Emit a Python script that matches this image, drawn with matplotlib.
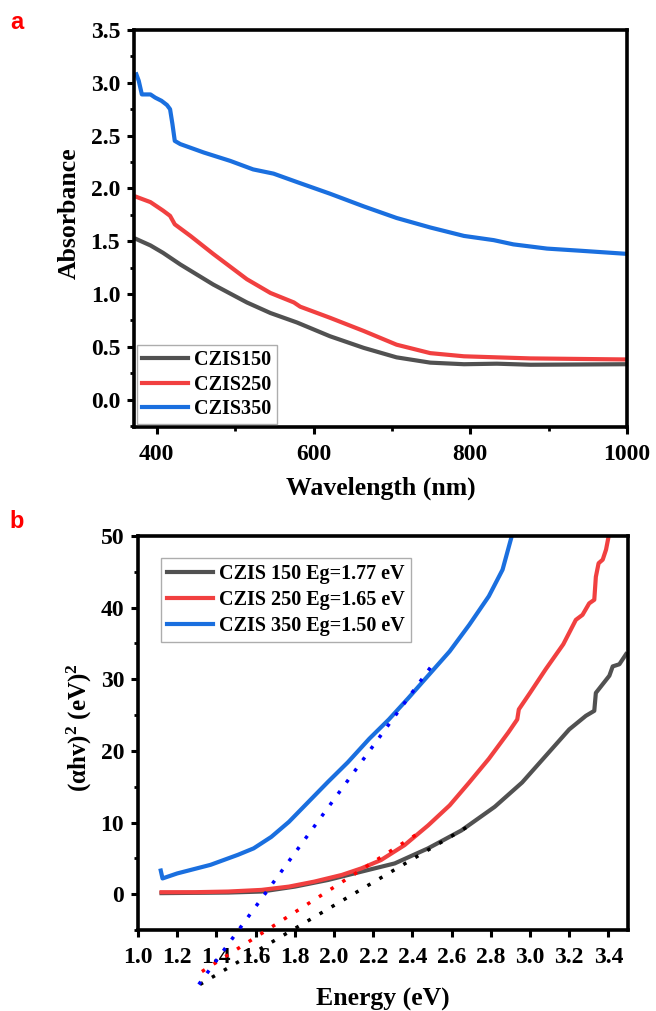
import matplotlib
matplotlib.use("Agg")
import matplotlib.pyplot as plt
from matplotlib.ticker import MultipleLocator

plt.rcParams['font.family'] = ['Liberation Serif', 'DejaVu Serif']
plt.rcParams['font.weight'] = 'bold'
plt.rcParams['mathtext.fontset'] = 'custom'
plt.rcParams['mathtext.rm'] = 'Liberation Serif:bold'
plt.rcParams['mathtext.it'] = 'Liberation Serif:bold:italic'
plt.rcParams['mathtext.bf'] = 'Liberation Serif:bold'

# ---------------- Panel a data ----------------
wl_150 = [374, 392, 408, 430, 472, 515, 545, 579, 621, 664, 706, 749, 792, 834, 877, 1000]
ab_150 = [1.52, 1.46, 1.39, 1.28, 1.09, 0.92, 0.82, 0.73, 0.60, 0.49, 0.40, 0.35, 0.335, 0.34, 0.33, 0.335]
wl_250 = [374, 392, 408, 417, 423, 443, 472, 515, 545, 575, 583, 621, 664, 706, 749, 792, 834, 877, 1000]
ab_250 = [1.92, 1.87, 1.79, 1.74, 1.66, 1.55, 1.38, 1.14, 1.01, 0.92, 0.88, 0.775, 0.65, 0.52, 0.44, 0.41, 0.40, 0.39, 0.38]
wl_350 = [374, 377, 381, 392, 398, 406, 413, 417, 420, 423, 430, 460, 494, 523, 549, 579, 621,
          664, 706, 749, 792, 830, 855, 898, 940, 1000]
ab_350 = [3.08, 3.02, 2.89, 2.89, 2.86, 2.83, 2.79, 2.75, 2.61, 2.45, 2.42, 2.34, 2.26, 2.18, 2.14, 2.06, 1.95,
          1.83, 1.72, 1.63, 1.55, 1.51, 1.47, 1.43, 1.41, 1.38]
labels_a = ['CZIS150', 'CZIS250', 'CZIS350']

# ---------------- Panel b data ----------------
e_150 = [1.12, 1.46, 1.63, 1.80, 1.97, 2.14, 2.31, 2.48, 2.65, 2.82, 2.96, 3.08, 3.20, 3.285, 3.328, 3.336,
         3.405, 3.422, 3.456, 3.49]
t_150 = [0.15, 0.23, 0.37, 1.06, 1.99, 3.15, 4.3, 6.4, 8.9, 12.2, 15.6, 19.3, 23.0, 24.9, 25.6, 28.1,
         30.5, 31.8, 32.1, 33.5]
e_250 = [1.12, 1.29, 1.46, 1.63, 1.77, 1.90, 2.04, 2.14, 2.24, 2.36, 2.48, 2.59, 2.69, 2.79, 2.89, 2.935,
         2.943, 3.0, 3.08, 3.17, 3.234, 3.268, 3.302, 3.328, 3.336, 3.35, 3.371, 3.388, 3.405]
t_250 = [0.28, 0.28, 0.37, 0.6, 1.06, 1.76, 2.69, 3.61, 4.77, 6.85, 9.6, 12.4, 15.6, 18.9, 22.6, 24.4,
         25.8, 28.1, 31.4, 34.9, 38.3, 39.0, 40.6, 41.1, 44.3, 46.2, 46.7, 48.1, 50.5]
e_350 = [1.116, 1.125, 1.20, 1.37, 1.51, 1.59, 1.68, 1.77, 1.87, 1.97, 2.07, 2.18, 2.28, 2.38, 2.48, 2.59,
         2.69, 2.79, 2.86, 2.91]
t_350 = [3.3, 2.2, 2.9, 4.1, 5.5, 6.4, 8.0, 10.1, 12.9, 15.7, 18.4, 21.7, 24.4, 27.4, 30.5, 33.9,
         37.6, 41.6, 45.3, 50.3]
labels_b = ['CZIS 150 Eg=1.77 eV', 'CZIS 250 Eg=1.65 eV', 'CZIS 350 Eg=1.50 eV']

# tangent (extrapolation) lines: x endpoints, y endpoints
fit_150_x = [1.316, 2.68]
fit_150_y = [-12.6, 9.4]
fit_250_x = [1.326, 2.43]
fit_250_y = [-10.8, 8.5]
fit_350_x = [1.31, 2.52]
fit_350_y = [-12.6, 32.7]

c_gray, c_red, c_blue = '#515151', '#F14040', '#1A6FDF'

fig = plt.figure(figsize=(6.56, 10.11), dpi=100)
ax1 = fig.add_axes([0.2043, 0.5776, 0.9558 - 0.2043, 0.9703 - 0.5776])
ax2 = fig.add_axes([0.2104, 0.0801, 0.9573 - 0.2104, 0.4698 - 0.0801])

TICK_FS = 17
LABEL_FS = 18.5
LEG_FS = 14.5

lw = 3.0
ax1.plot(wl_150, ab_150, color=c_gray, lw=lw, label=labels_a[0])
ax1.plot(wl_250, ab_250, color=c_red, lw=lw, label=labels_a[1])
ax1.plot(wl_350, ab_350, color=c_blue, lw=lw, label=labels_a[2])
ax1.set_xlim(371, 1000)
ax1.set_ylim(-0.26, 3.5)
ax1.xaxis.set_major_locator(MultipleLocator(200))
ax1.xaxis.set_minor_locator(MultipleLocator(100))
ax1.yaxis.set_minor_locator(MultipleLocator(0.25))
ax1.set_yticks([0.0, 0.5, 1.0, 1.5, 2.0, 2.5, 3.0, 3.5])
ax1.set_yticklabels(['0.0', '0.5', '1.0', '1.5', '2.0', '2.5', '3.0', '3.5'])
ax1.set_xlabel('Wavelength (nm)', fontsize=LABEL_FS, fontweight='bold', labelpad=8)
ax1.set_ylabel('Absorbance', fontsize=LABEL_FS, fontweight='bold', labelpad=7)
ax1.yaxis.label.set_y(0.539)
leg1 = ax1.legend(loc='lower left', bbox_to_anchor=(0.0, 0.0), fontsize=LEG_FS, frameon=True,
                  fancybox=False, edgecolor='#999999', handlelength=2.3, handletextpad=0.3,
                  borderpad=0.25, labelspacing=0.22, borderaxespad=0.15)
leg1.get_frame().set_linewidth(1.0)
for t in leg1.get_texts():
    t.set_fontweight('bold')

ax2.plot(e_150, t_150, color=c_gray, lw=lw, label=labels_b[0])
ax2.plot(e_250, t_250, color=c_red, lw=lw, label=labels_b[1])
ax2.plot(e_350, t_350, color=c_blue, lw=lw, label=labels_b[2])
ds = (0, (1, 3))
ax2.plot(fit_150_x, fit_150_y, color='black', lw=2.5, ls=ds, clip_on=False, zorder=5)
ax2.plot(fit_250_x, fit_250_y, color='red', lw=2.5, ls=ds, clip_on=False, zorder=5)
ax2.plot(fit_350_x, fit_350_y, color='blue', lw=2.5, ls=ds, clip_on=False, zorder=5)
ax2.set_xlim(1.0, 3.5)
ax2.set_ylim(-5, 50)
ax2.set_xticks([1.0, 1.2, 1.4, 1.6, 1.8, 2.0, 2.2, 2.4, 2.6, 2.8, 3.0, 3.2, 3.4])
ax2.set_xticklabels(['1.0', '1.2', '1.4', '1.6', '1.8', '2.0', '2.2', '2.4', '2.6', '2.8', '3.0', '3.2', '3.4'])
ax2.yaxis.set_major_locator(MultipleLocator(10))
ax2.yaxis.set_minor_locator(MultipleLocator(5))
ax2.set_xlabel('Energy (eV)', fontsize=LABEL_FS, fontweight='bold', labelpad=14)
ax2.set_ylabel(r'(αhv)$^{2}$ (eV)$^{2}$', fontsize=18, fontweight='bold', labelpad=5)
ax2.yaxis.label.set_y(0.514)
leg2 = ax2.legend(loc='upper left', bbox_to_anchor=(0.047, 0.944), fontsize=LEG_FS, frameon=True,
                  fancybox=False, edgecolor='#999999', handlelength=2.3, handletextpad=0.3,
                  borderpad=0.3, labelspacing=0.3, borderaxespad=0.0)
leg2.get_frame().set_linewidth(1.0)
for t in leg2.get_texts():
    t.set_fontweight('bold')

for ax in (ax1, ax2):
    for s in ax.spines.values():
        s.set_linewidth(2.6)
    ax.tick_params(axis='both', which='major', direction='out', length=5, width=2.2,
                   labelsize=TICK_FS, top=False, right=False)
    ax.tick_params(axis='x', which='major', pad=7.5)
    ax.tick_params(axis='y', which='major', pad=5)
    ax.tick_params(axis='both', which='minor', direction='out', length=3, width=2.0,
                   top=False, right=False)
    for lab in ax.get_xticklabels() + ax.get_yticklabels():
        lab.set_fontweight('bold')

fig.text(0.015, 0.978, 'a', color='red', fontsize=17, fontweight='bold',
         family=['Liberation Sans', 'DejaVu Sans'], va='center')
fig.text(0.015, 0.484, 'b', color='red', fontsize=17, fontweight='bold',
         family=['Liberation Sans', 'DejaVu Sans'], va='center')

fig.savefig('out.png', dpi=100)
